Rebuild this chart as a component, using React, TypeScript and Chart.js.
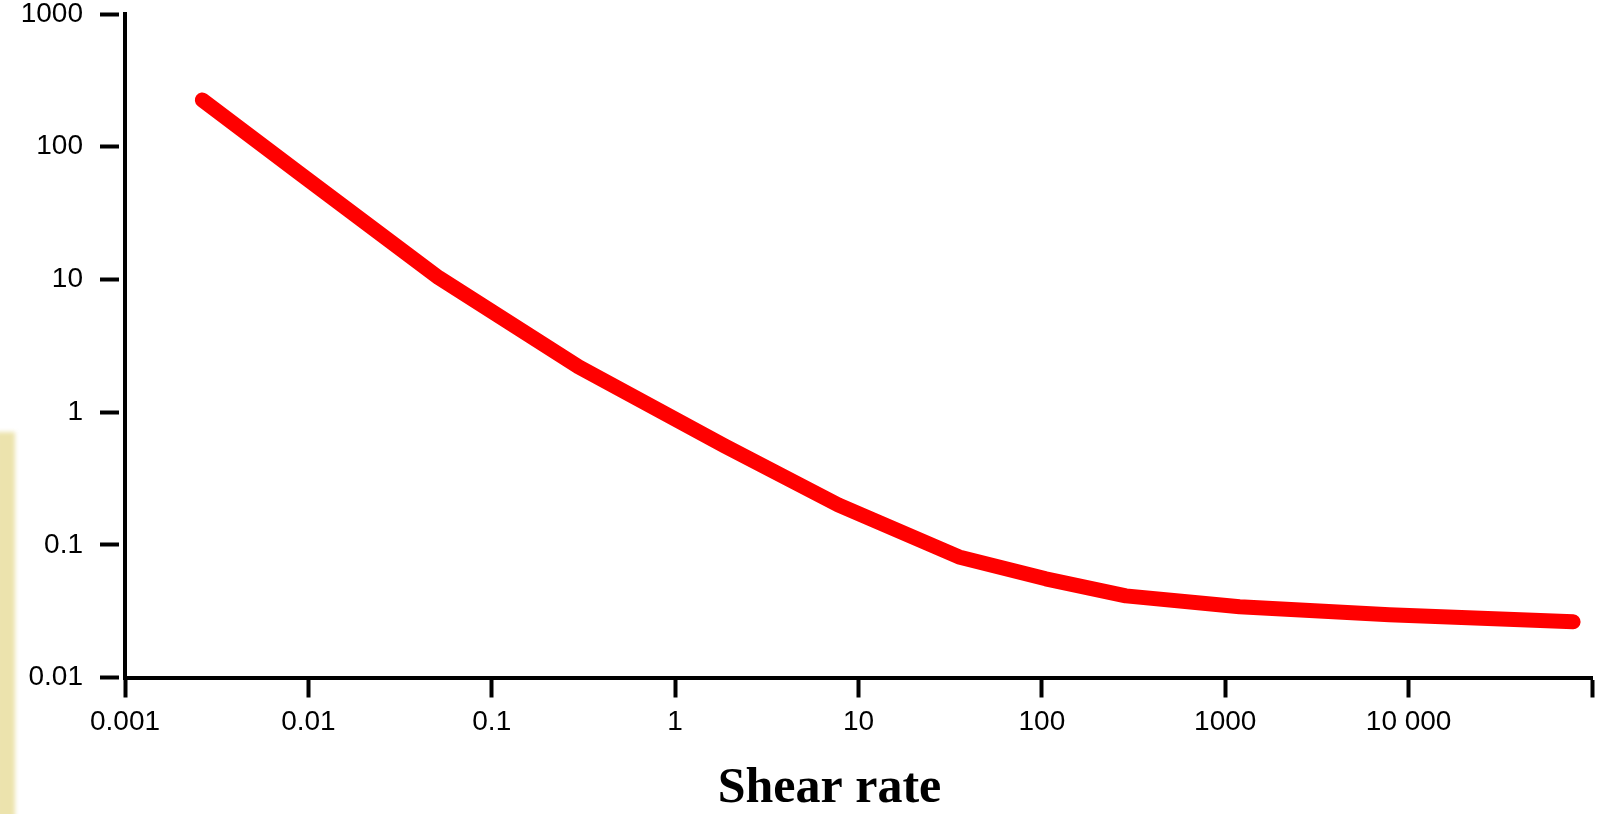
import React, { useEffect, useRef } from 'react';
import { Chart, registerables } from 'chart.js';

Chart.register(...registerables);

// Data (log-log flow curve)
const shearRate = [0.00264, 0.0089, 0.0514, 0.298, 1.86, 7.75, 35.3, 105, 287, 1197, 7850, 78900];
const viscosity = [225, 63.4, 10.3, 2.19, 0.557, 0.2, 0.081, 0.0554, 0.0412, 0.0341, 0.0297, 0.0263];

const xTickValues = [0.001, 0.01, 0.1, 1, 10, 100, 1000, 10000, 100000];
const xTickLabels = ['0.001', '0.01', '0.1', '1', '10', '100', '1000', '10 000', ''];
const yTickValues = [0.01, 0.1, 1, 10, 100, 1000];
const yTickLabels = ['0.01', '0.1', '1', '10', '100', '1000'];
const xAxisTitle = 'Shear rate';

const W = 1609;
const H = 814;

export default function App() {
  const ref = useRef<HTMLCanvasElement>(null);

  useEffect(() => {
    if (!ref.current) return;
    const family = '"Liberation Sans", Arial, sans-serif';

    const titlePlugin = {
      id: 'shearTitle',
      afterDraw(chart: any) {
        const { ctx, chartArea } = chart;
        ctx.save();
        ctx.font = 'bold 50px "Liberation Serif", "Times New Roman", serif';
        ctx.fillStyle = '#000';
        ctx.textAlign = 'center';
        ctx.textBaseline = 'alphabetic';
        const cx = (chartArea.left + chartArea.right) / 2 - 29;
        ctx.fillText(xAxisTitle, cx, chartArea.bottom + 124);
        ctx.restore();
      },
    };

    const chart = new Chart(ref.current, {
      type: 'line',
      data: {
        datasets: [
          {
            data: shearRate.map((x, i) => ({ x, y: viscosity[i] })),
            borderColor: '#ff0000',
            borderWidth: 15,
            borderCapStyle: 'round',
            borderJoinStyle: 'round',
            pointRadius: 0,
            tension: 0,
            fill: false,
          },
        ],
      },
      options: {
        animation: false,
        responsive: false,
        maintainAspectRatio: false,
        devicePixelRatio: 1,
        layout: { autoPadding: false, padding: { left: 0, top: 0, right: 17, bottom: 0 } },
        plugins: {
          legend: { display: false },
          tooltip: { enabled: false },
          title: { display: false },
        },
        scales: {
          x: {
            type: 'logarithmic',
            min: 0.001,
            max: 100000,
            afterBuildTicks: (s: any) => {
              s.ticks = xTickValues.map((v) => ({ value: v }));
            },
            afterFit: (s: any) => {
              s.height = H - 677.5;
              s.paddingLeft = 0;
              s.paddingRight = 0;
            },
            ticks: {
              callback: (_v: any, i: number) => xTickLabels[i],
              font: { family, size: 28 },
              color: '#000',
              padding: 8,
              maxRotation: 0,
              autoSkip: false,
            },
            grid: {
              drawOnChartArea: false,
              tickLength: 20,
              tickWidth: 4,
              color: '#000',
            },
            border: { display: true, color: '#000', width: 4 },
          },
          y: {
            type: 'logarithmic',
            min: 0.01,
            max: 1000,
            afterBuildTicks: (s: any) => {
              s.ticks = yTickValues.map((v) => ({ value: v }));
            },
            afterFit: (s: any) => {
              s.width = 125;
              s.paddingTop = 14;
              s.paddingBottom = 0;
            },
            ticks: {
              callback: (_v: any, i: number) => yTickLabels[i],
              font: { family, size: 28, lineHeight: 1 },
              color: '#000',
              padding: 17,
              autoSkip: false,
            },
            grid: {
              drawOnChartArea: false,
              tickLength: 25,
              tickWidth: 4,
              tickBorderDash: [19, 40],
              color: '#000',
            },
            border: { display: true, color: '#000', width: 4 },
          },
        },
      } as any,
      plugins: [titlePlugin],
    });

    return () => chart.destroy();
  }, []);

  return (
    <div style={{ position: 'absolute', left: 0, top: 0, width: W, height: H, overflow: 'hidden', background: '#fff' }}>
      <div
        style={{
          position: 'absolute',
          left: -4,
          top: 432,
          width: 19,
          height: 420,
          background: '#ece3ad',
          filter: 'blur(2px)',
        }}
      />
      <canvas ref={ref} width={W} height={H} style={{ position: 'absolute', left: 0, top: 0, width: W, height: H }} />
    </div>
  );
}
